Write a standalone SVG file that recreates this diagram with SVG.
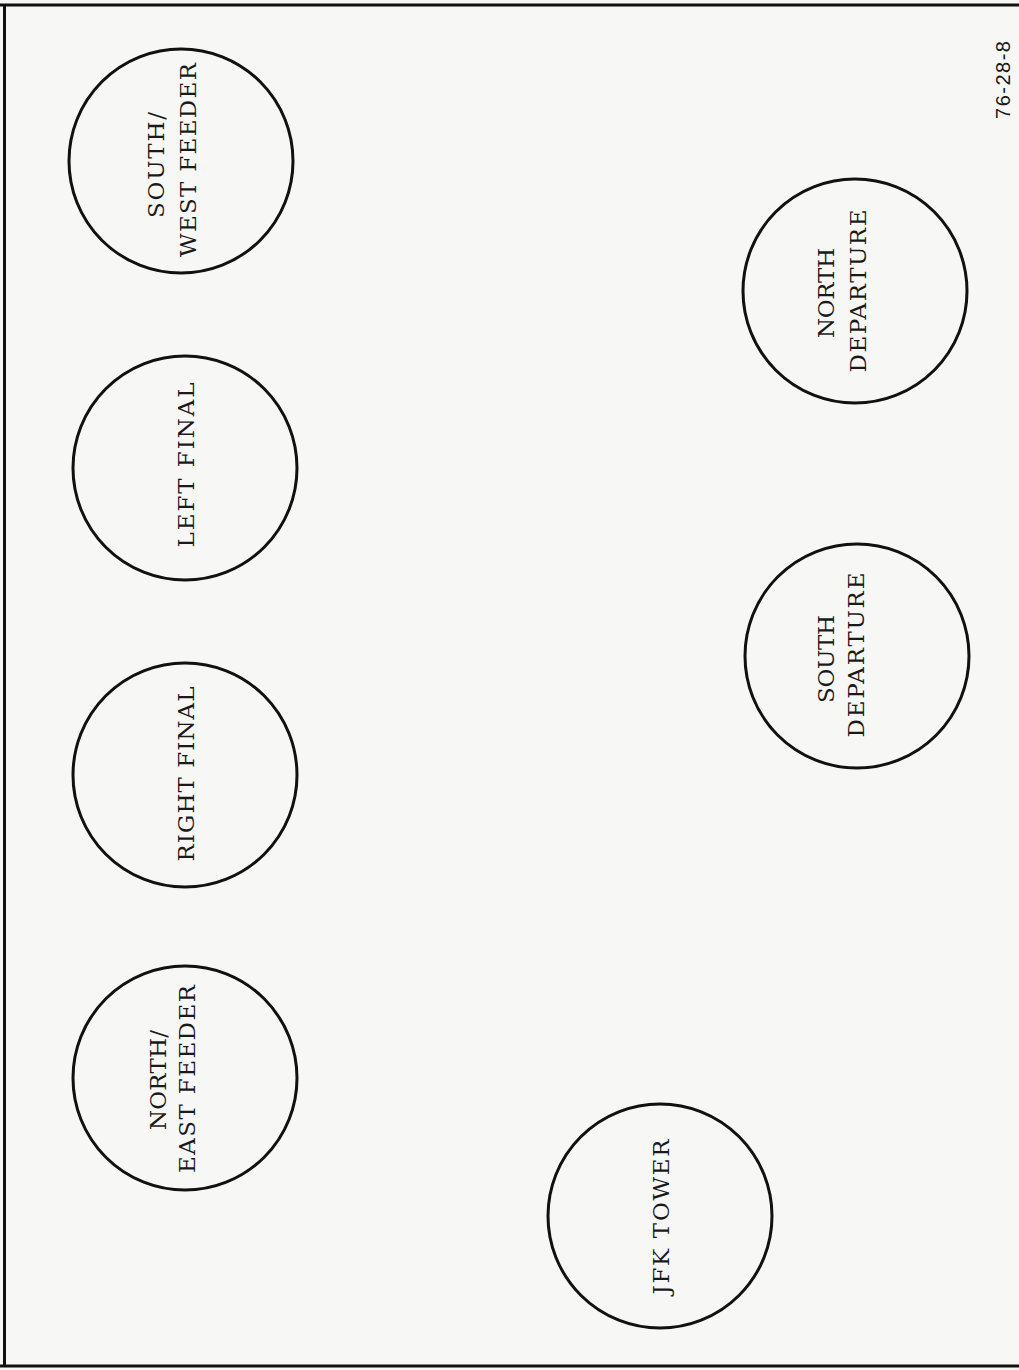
<svg xmlns="http://www.w3.org/2000/svg" width="1019" height="1370" viewBox="0 0 1019 1370">
<style>
.bg{fill:#f7f7f5}
.node circle{fill:none;stroke:#111;stroke-width:3}
.lbl{font-family:"DejaVu Serif","Liberation Serif",serif;font-size:23px;fill:#1a1a1a;text-anchor:middle}
.frame{stroke:#111;stroke-width:3;fill:none}
.code{font-family:"Liberation Sans",Arial,sans-serif;font-size:20px;fill:#1a1a1a;text-anchor:middle}
</style>
<rect class="bg" x="0" y="0" width="1019" height="1370"/>
<g id="frame">
<line class="frame" x1="0" y1="5" x2="1019" y2="5"/>
<line class="frame" x1="4.5" y1="5" x2="4.5" y2="1366"/>
<line class="frame" x1="0" y1="1366" x2="1019" y2="1366"/>
</g>
<g id="connectors"></g>
<g id="south-west-feeder" class="node">
<circle cx="181" cy="161" r="112"/>
<text class="lbl" transform="translate(164,165) rotate(-90)" textLength="106" lengthAdjust="spacing">SOUTH/</text>
<text class="lbl" transform="translate(196,160) rotate(-90)" textLength="194" lengthAdjust="spacing">WEST FEEDER</text>
</g>
<g id="left-final" class="node">
<circle cx="185" cy="468" r="112"/>
<text class="lbl" transform="translate(194,465) rotate(-90)" textLength="165" lengthAdjust="spacing">LEFT FINAL</text>
</g>
<g id="right-final" class="node">
<circle cx="185" cy="775" r="112"/>
<text class="lbl" transform="translate(194,774) rotate(-90)" textLength="175" lengthAdjust="spacing">RIGHT FINAL</text>
</g>
<g id="north-east-feeder" class="node">
<circle cx="185" cy="1078" r="112"/>
<text class="lbl" transform="translate(166,1080) rotate(-90)" textLength="100" lengthAdjust="spacing">NORTH/</text>
<text class="lbl" transform="translate(195,1079) rotate(-90)" textLength="188" lengthAdjust="spacing">EAST FEEDER</text>
</g>
<g id="north-departure" class="node">
<circle cx="855" cy="291" r="112"/>
<text class="lbl" transform="translate(834,293) rotate(-90)" textLength="90" lengthAdjust="spacing">NORTH</text>
<text class="lbl" transform="translate(866,291) rotate(-90)" textLength="163" lengthAdjust="spacing">DEPARTURE</text>
</g>
<g id="south-departure" class="node">
<circle cx="857" cy="656" r="112"/>
<text class="lbl" transform="translate(834,659) rotate(-90)" textLength="88" lengthAdjust="spacing">SOUTH</text>
<text class="lbl" transform="translate(864,655) rotate(-90)" textLength="165" lengthAdjust="spacing">DEPARTURE</text>
</g>
<g id="jfk-tower" class="node">
<circle cx="660" cy="1216" r="112"/>
<text class="lbl" transform="translate(669,1217) rotate(-90)" textLength="155" lengthAdjust="spacing">JFK TOWER</text>
</g>
<g id="figure-number">
<text class="code" transform="translate(1010,80) rotate(-90)" textLength="78" lengthAdjust="spacing">76-28-8</text>
</g>
</svg>
